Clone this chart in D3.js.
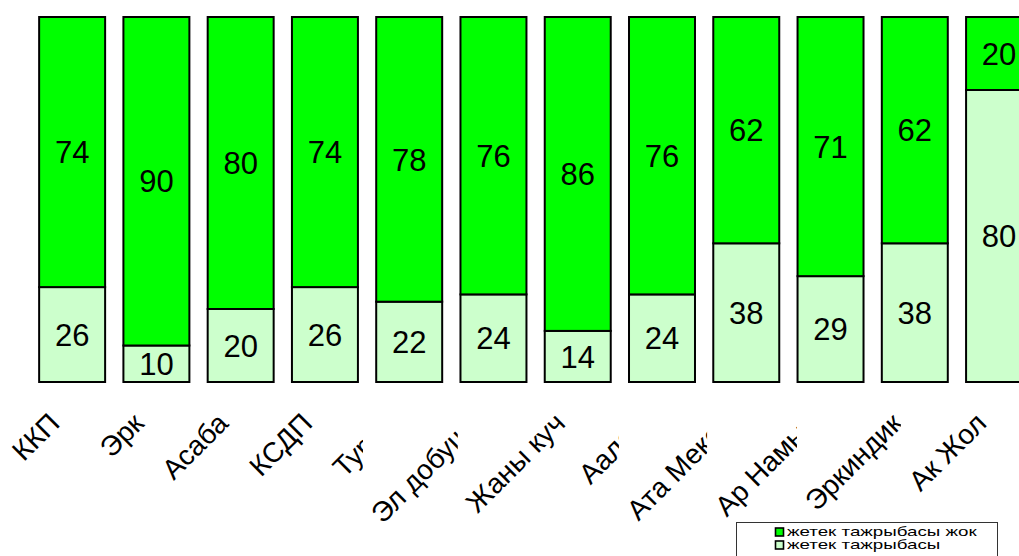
<!DOCTYPE html>
<html><head><meta charset="utf-8">
<script src="https://cdn.jsdelivr.net/npm/d3@7"></script>
<style>
body{margin:0;background:#fff;overflow:hidden;}
svg{display:block;font-family:"Liberation Sans",Arial,sans-serif;}
</style>
</head><body>
<svg id="chart" width="1019" height="556"></svg>
<script>
const categories = ["ККП","Эрк","Асаба","КСДП","Туран","Эл добушу","Жаны куч","Аалам","Ата Мекен","Ар Намыс","Эркиндик","Ак Жол"];
const withExperience = [26,10,20,26,22,24,14,24,38,29,38,80];      // жетек тажрыбасы (bottom)
const withoutExperience = [74,90,80,74,78,76,86,76,62,71,62,20];   // жетек тажрыбасы жок (top)
const seriesKeys = ["with","without"];
const legendLabels = ["жетек тажрыбасы жок","жетек тажрыбасы"];

const colors = {without:"#00ff00", with:"#ccffcc"};

const rows = categories.map((c,i)=>({cat:c, with:withExperience[i], without:withoutExperience[i]}));

const svg = d3.select("#chart");
const x = d3.scaleBand().domain(categories).range([30, 1041.2]).paddingInner(0.217).paddingOuter(0.1085);
const y = d3.scaleLinear().domain([0,100]).range([382, 17]);

const stack = d3.stack().keys(seriesKeys)(rows);

const gBars = svg.append("g");
stack.forEach(layer=>{
  const g = gBars.append("g");
  g.selectAll("rect").data(layer).join("rect")
    .attr("x", d=>x(d.data.cat))
    .attr("width", x.bandwidth())
    .attr("y", d=>y(d[1]))
    .attr("height", d=>y(d[0])-y(d[1]))
    .attr("fill", colors[layer.key])
    .attr("stroke","#000")
    .attr("stroke-width",2);
  g.selectAll("text").data(layer).join("text")
    .attr("x", d=>x(d.data.cat)+x.bandwidth()/2)
    .attr("y", d=>(y(d[0])+y(d[1]))/2)
    .attr("dy","0.36em")
    .attr("text-anchor","middle")
    .attr("font-size",31)
    .attr("fill","#000")
    .text(d=>d.data[layer.key]);
});

// rotated category labels, each with a white background box (later ones cover earlier ones)
const gLab = svg.append("g");
const pad = 2;
categories.forEach(c=>{
  const g = gLab.append("g");
  const ax = x(c)+x.bandwidth()/2 - 11, ay = 425;
  const bg = g.append("rect").attr("fill","#fff");
  const t = g.append("text")
    .attr("transform",`translate(${ax},${ay}) rotate(-45)`)
    .attr("text-anchor","end")
    .attr("font-size",28)
    .attr("fill","#000")
    .text(c);
  const bb = t.node().getBBox();
  const a = -Math.PI/4, ca=Math.cos(a), sa=Math.sin(a);
  const pts = [[bb.x,bb.y],[bb.x+bb.width,bb.y],[bb.x,bb.y+bb.height],[bb.x+bb.width,bb.y+bb.height]]
    .map(([px,py])=>[ax+px*ca-py*sa, ay+px*sa+py*ca]);
  const xs = pts.map(p=>p[0]), ys = pts.map(p=>p[1]);
  bg.attr("x",d3.min(xs)-pad).attr("y",d3.min(ys))
    .attr("width",d3.max(xs)-d3.min(xs)+pad).attr("height",d3.max(ys)-d3.min(ys));
});

// legend
const lg = svg.append("g");
lg.append("rect").attr("x",736.5).attr("y",522.5).attr("width",261).attr("height",40)
  .attr("fill","#fff").attr("stroke","#333").attr("stroke-width",1);
const legendKeys = ["without","with"];
legendKeys.forEach((k,i)=>{
  const yy = 532 + i*13;
  lg.append("rect").attr("x",775.5).attr("y",yy-4).attr("width",8).attr("height",8)
    .attr("fill",colors[k]).attr("stroke","#000").attr("stroke-width",1.6);
  lg.append("text").attr("transform",`translate(787,${yy}) scale(1.5,1)`).attr("dy","0.33em")
    .attr("font-size",12.5).attr("fill","#000").text(legendLabels[i]);
});
</script>
</body></html>
